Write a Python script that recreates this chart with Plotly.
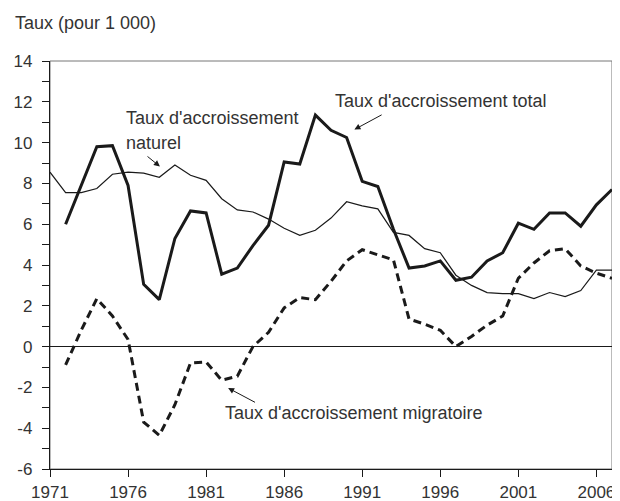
import plotly.graph_objects as go

# years
years_nat = list(range(1971, 2008))
years = list(range(1972, 2008))

# taux pour 1 000
total = [6.0, 7.9, 9.8, 9.85, 7.9, 3.05, 2.3, 5.3, 6.65, 6.55, 3.55, 3.85, 4.95, 5.95,
         9.05, 8.95, 11.35, 10.6, 10.25, 8.1, 7.85, 5.75, 3.85, 3.95, 4.2, 3.25, 3.4,
         4.2, 4.6, 6.05, 5.75, 6.55, 6.55, 5.9, 6.95, 7.7]
naturel = [8.55, 7.55, 7.55, 7.75, 8.45, 8.55, 8.5, 8.3, 8.9, 8.4, 8.15, 7.25, 6.7, 6.6,
           6.25, 5.8, 5.45, 5.7, 6.3, 7.1, 6.9, 6.75, 5.6, 5.45, 4.8, 4.6, 3.5, 3.0,
           2.65, 2.6, 2.6, 2.35, 2.65, 2.45, 2.75, 3.75, 3.75]
migratoire = [-0.9, 0.8, 2.35, 1.5, 0.35, -3.7, -4.35, -2.85, -0.8, -0.75, -1.65, -1.45,
              0.0, 0.7, 1.9, 2.4, 2.3, 3.2, 4.2, 4.75, 4.5, 4.25, 1.35, 1.1, 0.8, 0.0,
              0.5, 1.05, 1.5, 3.35, 4.1, 4.7, 4.8, 3.95, 3.6, 3.35]

x_ticks = [1971, 1976, 1981, 1986, 1991, 1996, 2001, 2006]
y_ticks = [-6, -4, -2, 0, 2, 4, 6, 8, 10, 12, 14]

FONT = "Liberation Sans, Arial, sans-serif"
TXT = "#333333"
INK = "#1a1a1a"

fig = go.Figure()
fig.add_trace(go.Scatter(x=years_nat, y=naturel, mode="lines",
                         line=dict(color=INK, width=1.2), name="naturel"))
fig.add_trace(go.Scatter(x=years, y=migratoire, mode="lines",
                         line=dict(color=INK, width=3, dash="8px,5px"), name="migratoire"))
fig.add_trace(go.Scatter(x=years, y=total, mode="lines",
                         line=dict(color=INK, width=3), name="total"))

# frame (top/right in grey)
fig.add_shape(type="rect", xref="paper", yref="paper", x0=0, x1=1, y0=0, y1=1,
              line=dict(color="#777777", width=1), layer="below")

def label(x, y, text):
    fig.add_annotation(x=x, y=y, text=text, showarrow=False, xanchor="left",
                       yanchor="middle", font=dict(size=18, color=TXT, family=FONT))

def arrow(x, y, ax, ay):
    fig.add_annotation(x=x, y=y, ax=ax, ay=ay, axref="x", ayref="y", text="",
                       showarrow=True, arrowhead=2, arrowsize=1.2, arrowwidth=1,
                       arrowcolor=INK)

label(1989.1, 12.05, "Taux d'accroissement total")
arrow(1990.5, 10.64, 1992.34, 11.4)
label(1975.75, 11.2, "Taux d'accroissement")
label(1975.75, 10.0, "naturel")
arrow(1978.04, 8.83, 1977.15, 9.38)
label(1982.05, -3.26, "Taux d'accroissement migratoire")
arrow(1982.41, -2.03, 1984.23, -2.77)

# y-axis title, placed above the plot area (paper = plot domain)
fig.add_annotation(x=(13 - 50) / 562, y=1 + (61 - 23) / 408, xref="paper", yref="paper",
                   xanchor="left", yanchor="middle", showarrow=False,
                   text="Taux (pour 1 000)", font=dict(size=18, color=TXT, family=FONT))

fig.update_xaxes(range=[1971, 2007], tickvals=x_ticks, ticktext=[str(v) for v in x_ticks],
                 ticks="outside", ticklen=7, tickcolor=INK, showline=True, linecolor=INK,
                 linewidth=1.3, showgrid=False, zeroline=False, automargin=False,
                 tickfont=dict(size=17, color=TXT, family=FONT))
fig.update_yaxes(range=[-6, 14], tickvals=y_ticks, ticktext=[str(v) for v in y_ticks],
                 ticks="outside", ticklen=7, tickcolor=INK, showline=True, linecolor=INK,
                 linewidth=1.3, showgrid=False, zeroline=True, zerolinecolor=INK,
                 zerolinewidth=1.2, automargin=False, ticklabelstandoff=6,
                 minor=dict(tickvals=list(range(-5, 14, 2)), ticks="outside", ticklen=7,
                            tickcolor=INK),
                 tickfont=dict(size=17, color=TXT, family=FONT))

# the page body adds an 8px offset, so the figure is 8px smaller and shifted
fig.update_layout(width=612, height=493, showlegend=False,
                  margin=dict(l=42, r=8, t=53, b=32, autoexpand=False),
                  plot_bgcolor="white", paper_bgcolor="white",
                  font=dict(family=FONT, color=TXT))

fig.write_html("out.html")
